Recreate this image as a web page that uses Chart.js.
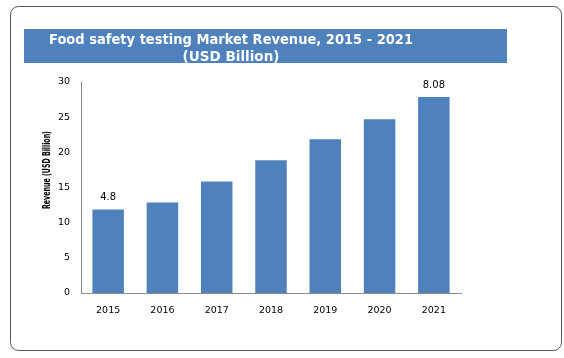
<!DOCTYPE html>
<html>
<head>
<meta charset="utf-8">
<script src="https://cdn.jsdelivr.net/npm/chart.js@4.4.0/dist/chart.umd.min.js"></script>
<style>
  html, body { margin: 0; padding: 0; background: #fff; }
  #wrap { width: 564px; height: 358px; }
</style>
</head>
<body>
<div id="wrap"><canvas id="revenueChart" width="564" height="358"></canvas></div>
<script>
const years = ['2015', '2016', '2017', '2018', '2019', '2020', '2021'];
const revenue = [11.86, 12.86, 15.86, 18.86, 21.86, 24.71, 27.86];
const barLabels = ['4.8', '', '', '', '', '', '8.08'];
const yTicks = [0, 5, 10, 15, 20, 25, 30];
const titleLines = ['Food safety testing Market Revenue, 2015 - 2021', '(USD Billion)'];
const yAxisTitle = 'Revenue (USD Billion)';

const BAR_BLUE = '#4f81bd';
const AXIS_GREY = '#8c8c8c';
const TICK_FONT = { family: 'DejaVu Sans', size: 9.5 };

// draws text centred at x, squeezed horizontally if wider than maxW
function fitText(ctx, text, x, y, maxW) {
    const w = ctx.measureText(text).width;
    const k = w > maxW ? maxW / w : 1;
    ctx.save();
    ctx.translate(x, y);
    ctx.scale(k, 1);
    ctx.fillText(text, 0, 0);
    ctx.restore();
}

const framePlugin = {
    id: 'frame',
    beforeDraw(chart) {
        const ctx = chart.ctx;
        ctx.save();
        ctx.fillStyle = '#fff';
        ctx.fillRect(0, 0, chart.width, chart.height);

        // outer rounded border
        ctx.strokeStyle = '#555';
        ctx.lineWidth = 1;
        ctx.beginPath();
        ctx.roundRect(10.5, 6.5, 551, 344, 8);
        ctx.stroke();

        // title band
        ctx.fillStyle = BAR_BLUE;
        ctx.fillRect(24, 29, 483, 34);
        ctx.beginPath();
        ctx.rect(24, 29, 483, 34);
        ctx.clip();
        ctx.fillStyle = '#fff';
        ctx.font = 'bold 14px "DejaVu Sans"';
        ctx.textAlign = 'center';
        ctx.textBaseline = 'middle';
        fitText(ctx, titleLines[0], 231, 40, 364);
        fitText(ctx, titleLines[1], 231, 57, 97);
        ctx.restore();
    },
    afterDatasetsDraw(chart) {
        const ctx = chart.ctx;
        const meta = chart.getDatasetMeta(0);
        ctx.save();
        ctx.fillStyle = '#000';
        ctx.font = '10px "DejaVu Sans"';
        ctx.textAlign = 'center';
        ctx.textBaseline = 'middle';
        meta.data.forEach((bar, i) => {
            if (barLabels[i]) ctx.fillText(barLabels[i], bar.x, bar.y - 12);
        });
        ctx.restore();
    },
    afterDraw(chart) {
        const ctx = chart.ctx;
        ctx.save();
        ctx.translate(47, 170);
        ctx.rotate(-Math.PI / 2);
        ctx.fillStyle = '#000';
        ctx.font = 'bold 10px "DejaVu Sans"';
        ctx.textAlign = 'center';
        ctx.textBaseline = 'middle';
        fitText(ctx, yAxisTitle, 0, 0, 78);
        ctx.restore();
    }
};

const ctx = document.getElementById('revenueChart').getContext('2d');
new Chart(ctx, {
    type: 'bar',
    data: {
        labels: years,
        datasets: [{
            data: revenue,
            backgroundColor: BAR_BLUE,
            borderWidth: 0,
            categoryPercentage: 1,
            barPercentage: 0.58
        }]
    },
    options: {
        responsive: false,
        devicePixelRatio: 1,
        animation: false,
        events: [],
        layout: { padding: { left: 20, right: 103, top: 82, bottom: 30 } },
        plugins: {
            legend: { display: false },
            tooltip: { enabled: false },
            title: { display: false }
        },
        scales: {
            x: {
                grid: { display: false, drawTicks: false },
                border: { display: true, color: AXIS_GREY, width: 1 },
                ticks: { color: '#000', font: TICK_FONT, padding: 12, maxRotation: 0 },
                afterFit: (s) => { s.height = 35; }
            },
            y: {
                min: 0,
                max: 30,
                grid: { display: false, drawTicks: false },
                border: { display: true, color: AXIS_GREY, width: 1 },
                ticks: { color: '#000', font: TICK_FONT, padding: 11 },
                afterBuildTicks: (s) => { s.ticks = yTicks.map(v => ({ value: v })); },
                afterFit: (s) => { s.width = 61; }
            }
        }
    },
    plugins: [framePlugin]
});
</script>
</body>
</html>
